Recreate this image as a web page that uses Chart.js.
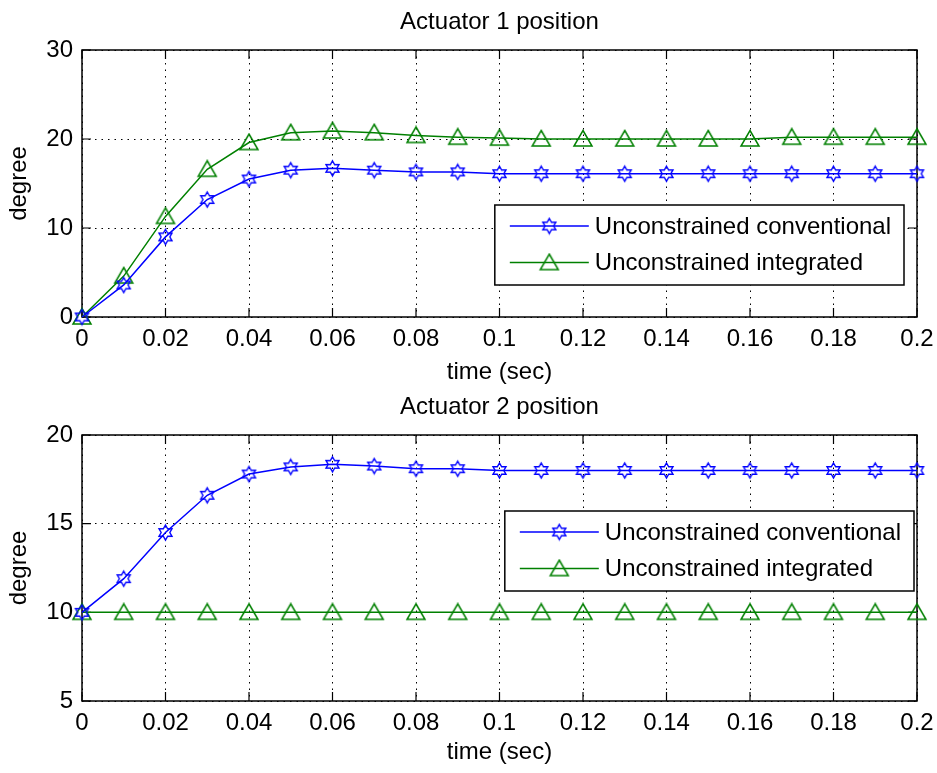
<!DOCTYPE html>
<html>
<head>
<meta charset="utf-8">
<script src="https://cdn.jsdelivr.net/npm/chart.js@4.4.0/dist/chart.umd.min.js"></script>
<style>
html,body{margin:0;padding:0;background:#fff;}
#wrap{position:relative;width:937px;height:773px;}
canvas{position:absolute;left:0;}
</style>
</head>
<body>
<div id="wrap">
  <canvas id="c1" width="937" height="385" style="top:0"></canvas>
  <canvas id="c2" width="937" height="388" style="top:385px"></canvas>
</div>
<script>
// ===== DATA =====
const timeSec = [0,0.01,0.02,0.03,0.04,0.05,0.06,0.07,0.08,0.09,0.10,0.11,0.12,0.13,0.14,0.15,0.16,0.17,0.18,0.19,0.20];
const act1Conv = [0,3.6,9.0,13.2,15.5,16.5,16.7,16.5,16.3,16.3,16.1,16.1,16.1,16.1,16.1,16.1,16.1,16.1,16.1,16.1,16.1];
const act1Int  = [0,4.6,11.3,16.6,19.6,20.7,20.9,20.7,20.4,20.2,20.1,20.0,20.0,20.0,20.0,20.0,20.0,20.2,20.2,20.2,20.2];
const act2Conv = [10,11.9,14.5,16.6,17.8,18.2,18.35,18.25,18.1,18.1,18.0,18.0,18.0,18.0,18.0,18.0,18.0,18.0,18.0,18.0,18.0];
const act2Int  = [10,10,10,10,10,10,10,10,10,10,10,10,10,10,10,10,10,10,10,10,10];
const seriesNames = ["Unconstrained conventional","Unconstrained integrated"];
const xTickLabels = ["0","0.02","0.04","0.06","0.08","0.1","0.12","0.14","0.16","0.18","0.2"];
const y1TickLabels = ["0","10","20","30"];
const y2TickLabels = ["5","10","15","20"];

const FONT = '"Liberation Sans", Arial, sans-serif';
const BLUE = '#0000ff', GREEN = '#008000';

// ===== MARKERS =====
function hexagram(color){
  const c=document.createElement('canvas');c.width=19;c.height=19;
  const x=c.getContext('2d');const cx=9.5,cy=9.5,R=7.5,r=R/Math.sqrt(3);
  x.strokeStyle=color;x.lineWidth=1.4;x.beginPath();
  for(let i=0;i<12;i++){
    const a=-Math.PI/2+i*Math.PI/6;const rr=i%2?r:R;
    const px=cx+rr*Math.cos(a),py=cy+rr*Math.sin(a);
    i?x.lineTo(px,py):x.moveTo(px,py);
  }
  x.closePath();x.stroke();return c;
}
function triangle(color){
  const c=document.createElement('canvas');c.width=22;c.height=20;
  const x=c.getContext('2d');
  x.strokeStyle=color;x.lineWidth=1.5;x.beginPath();
  x.moveTo(11,1.5);x.lineTo(20,17);x.lineTo(2,17);x.closePath();x.stroke();
  return c;
}
const starImg=hexagram(BLUE), triImg=triangle(GREEN);

// ===== PLUGINS =====
const framePlugin={
  id:'frame',
  beforeDatasetsDraw(chart){
    const {ctx,chartArea:a,scales}=chart;
    ctx.save();ctx.strokeStyle='#000';ctx.lineWidth=1.5;
    ctx.strokeRect(a.left,a.top,a.right-a.left,a.bottom-a.top);
    ctx.lineWidth=1.2;ctx.beginPath();
    scales.x.ticks.forEach(t=>{const p=scales.x.getPixelForValue(t.value);
      ctx.moveTo(p,a.bottom);ctx.lineTo(p,a.bottom-9);ctx.moveTo(p,a.top);ctx.lineTo(p,a.top+9);});
    scales.y.ticks.forEach(t=>{const p=scales.y.getPixelForValue(t.value);
      ctx.moveTo(a.left,p);ctx.lineTo(a.left+9,p);ctx.moveTo(a.right,p);ctx.lineTo(a.right-9,p);});
    ctx.stroke();ctx.restore();
  }
};
const titlePlugin={
  id:'plotTitle',
  afterDraw(chart,args,opts){
    const {ctx,chartArea:a}=chart;
    ctx.save();ctx.fillStyle='#000';ctx.font='24px '+FONT;ctx.textAlign='center';ctx.textBaseline='middle';
    ctx.fillText(opts.text,(a.left+a.right)/2,opts.y);ctx.restore();
  }
};
const boxLegend={
  id:'boxLegend',
  afterDatasetsDraw(chart,args,opts){
    const {ctx,chartArea:a}=chart;
    ctx.save();ctx.font='24px '+FONT;
    const tw=Math.max(...chart.data.datasets.map(d=>ctx.measureText(d.label).width));
    const w=100+tw+13,h=80,right=a.right-opts.right,left=right-w,top=a.top+opts.top;
    ctx.fillStyle='#fff';ctx.fillRect(left,top,w,h);
    ctx.strokeStyle='#000';ctx.lineWidth=1.5;ctx.strokeRect(left,top,w,h);
    chart.data.datasets.forEach((d,i)=>{
      const y=top+21+i*36.6;
      ctx.strokeStyle=d.borderColor;ctx.lineWidth=1.5;
      ctx.beginPath();ctx.moveTo(left+15,y);ctx.lineTo(left+94,y);ctx.stroke();
      const img=d.pointStyle;ctx.drawImage(img,left+54.5-img.width/2,y-img.height/2);
      ctx.fillStyle='#000';ctx.textBaseline='middle';ctx.textAlign='left';
      ctx.fillText(d.label,left+100,y+1);
    });
    ctx.restore();
  }
};

// ===== CHART BUILDER =====
function makeChart(id,title,convVals,intVals,yMin,yMax,yStep,yLabels,xHeight,legPos,titlePad){
  const ds=(label,vals,color,img)=>({label,data:timeSec.map((t,i)=>({x:t,y:vals[i]})),
    borderColor:color,borderWidth:1.5,backgroundColor:'transparent',pointStyle:img,
    pointRadius:8,pointHoverRadius:8,tension:0,clip:false});
  return new Chart(document.getElementById(id),{
    type:'line',
    data:{datasets:[ds(seriesNames[0],convVals,BLUE,starImg),ds(seriesNames[1],intVals,GREEN,triImg)]},
    options:{
      responsive:false,animation:false,events:[],
      layout:{padding:{left:0,right:20,top:50,bottom:0}},
      plugins:{legend:{display:false},tooltip:{enabled:false},
        plotTitle:{text:title,y:22},boxLegend:legPos},
      scales:{
        x:{type:'linear',min:0,max:0.2,
          afterFit(s){s.height=xHeight;s.paddingLeft=0;s.paddingRight=0;},
          afterBuildTicks(s){s.ticks=xTickLabels.map(v=>({value:parseFloat(v)}));},
          ticks:{color:'#000',font:{family:FONT,size:24},padding:8,maxRotation:0,autoSkip:false,
            callback:(v,i)=>xTickLabels[i]},
          grid:{color:'#000',lineWidth:1,drawTicks:false},
          border:{display:false,dash:[1.5,5]},
          title:{display:true,text:'time (sec)',color:'#000',font:{family:FONT,size:24,lineHeight:1},padding:{top:0,bottom:titlePad}}
        },
        y:{min:yMin,max:yMax,
          afterFit(s){s.width=82;s.paddingTop=0;s.paddingBottom=0;},
          ticks:{stepSize:yStep,color:'#000',font:{family:FONT,size:24},padding:9,
            callback:(v,i)=>yLabels[i]},
          grid:{color:'#000',lineWidth:1,drawTicks:false},
          border:{display:false,dash:[1.5,5]},
          title:{display:true,text:'degree',color:'#000',font:{family:FONT,size:24,lineHeight:1},padding:{top:7,bottom:0}}
        }
      }
    },
    plugins:[framePlugin,titlePlugin,boxLegend]
  });
}

makeChart('c1','Actuator 1 position',act1Conv,act1Int,0,30,10,y1TickLabels,68,{right:13,top:155},1);
makeChart('c2','Actuator 2 position',act2Conv,act2Int,5,20,5,y2TickLabels,72,{right:3,top:76},9);
</script>
</body>
</html>
